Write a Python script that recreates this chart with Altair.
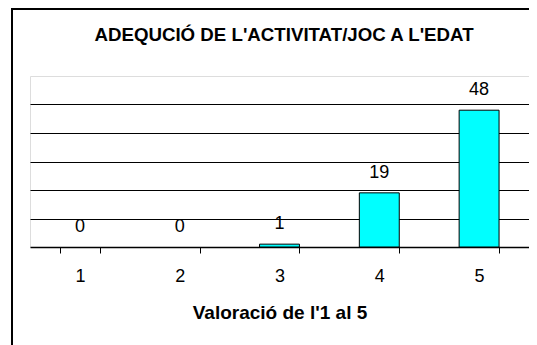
import altair as alt
import pandas as pd

categories = ["1", "2", "3", "4", "5"]
values = [0, 0, 1, 19, 48]
title_text = "ADEQUCIÓ DE L'ACTIVITAT/JOC A L'EDAT"
x_title = "Valoració de l'1 al 5"

df = pd.DataFrame({"cat": categories, "val": values})
FONT = "Liberation Sans"

x_enc = alt.X(
    "cat:N",
    sort=categories,
    scale=alt.Scale(paddingInner=0.6, paddingOuter=0.3),
    axis=alt.Axis(
        title=x_title,
        titleFont=FONT,
        titleFontSize=19,
        titleFontWeight="bold",
        titleColor="black",
        titlePadding=18,
        labelFont=FONT,
        labelFontSize=18,
        labelColor="black",
        labelAngle=0,
        labelPadding=14,
        tickBand="extent",
        tickSize=6,
        tickColor="black",
        domainColor="black",
        domainWidth=1.5,
        grid=False,
    ),
)
y_enc = alt.Y(
    "val:Q",
    scale=alt.Scale(domain=[0, 60]),
    axis=alt.Axis(
        title=None,
        labels=False,
        ticks=False,
        domain=False,
        grid=True,
        values=[10, 20, 30, 40, 50],
        gridColor="black",
        gridWidth=1,
        gridOpacity=1,
    ),
)

border = alt.Chart(df).mark_rect(
    fill=None, stroke="black", strokeWidth=2, clip=False
).encode(
    x=alt.value(-18), x2=alt.value(700), y=alt.value(-67), y2=alt.value(400)
)

title = alt.Chart(pd.DataFrame({"t": [title_text]})).mark_text(
    font=FONT, fontSize=18.7, fontWeight="bold", color="black",
    baseline="alphabetic", align="center",
).encode(x=alt.value(254), y=alt.value(-35.5), text="t:N")

bars = alt.Chart(df).mark_bar(
    color="#00FFFF", stroke="black", strokeWidth=1
).encode(x=x_enc, y=y_enc).transform_filter("datum.val > 0")

labels = alt.Chart(df).mark_text(
    font=FONT, fontSize=18, color="black", baseline="alphabetic", dy=-15
).encode(x=alt.X("cat:N", sort=categories), y=alt.Y("val:Q"), text="val:Q")

chart = alt.layer(bars, labels, border, title).properties(
    width=499,
    height=171,
    autosize=alt.AutoSizeParams(type="none"),
    padding={"left": 22, "top": 68, "right": 0, "bottom": 98},
).configure_view(stroke="#808080", strokeWidth=1).configure(background="white")

chart.save("out.html", embed_options={"renderer": "svg", "actions": False})
